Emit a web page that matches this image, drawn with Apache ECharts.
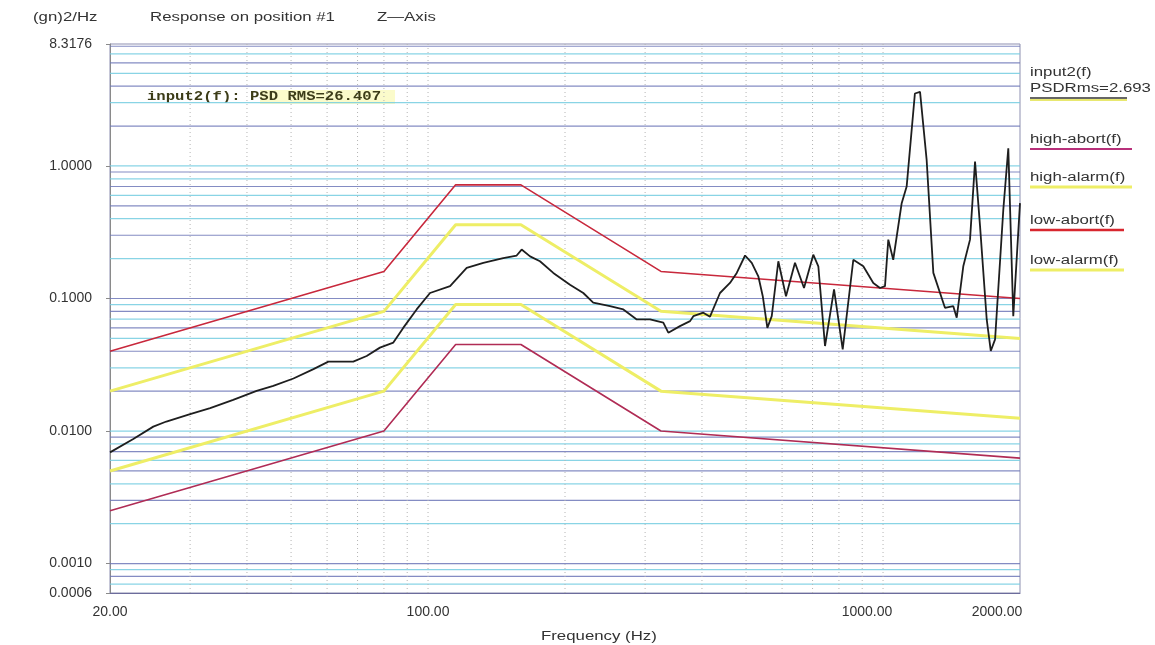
<!DOCTYPE html>
<html><head><meta charset="utf-8">
<script src="https://cdn.jsdelivr.net/npm/echarts@6/dist/echarts.min.js"></script>
<style>html,body{margin:0;padding:0;background:#fff}#c{width:1155px;height:645px}</style>
</head><body><div id="c"></div>
<script>
// ---- data ----
const responseFreq = [20, 22.5, 24.9, 26.6, 30.0, 33.2, 37.3, 42.0, 45.7, 50.6, 56.0, 60.4, 68.5, 73.3, 78.4, 83.9, 88.2, 94.4, 101, 111.8, 121.6, 132.3, 146.3, 156.6, 160.6, 167.6, 176.2, 188.5, 205.1, 219.4, 230.7, 251.2, 268.7, 287.6, 307.6, 328.9, 337.4, 357.8, 376.6, 382.9, 402.7, 416.6, 438.2, 460.9, 477, 497.5, 514.6, 532, 544.1, 556.9, 569.4, 588.7, 612, 640.5, 670.4, 702.6, 720.8, 745.6, 780.4, 815.4, 860.4, 905, 952, 984.8, 1010, 1027, 1053, 1099, 1127, 1175, 1206, 1247, 1290, 1368, 1427, 1452, 1501, 1553, 1593, 1634, 1690, 1725, 1763, 1838, 1885, 1933, 2000];
const responsePsd = [0.0069, 0.0087, 0.0108, 0.0118, 0.0134, 0.0149, 0.0172, 0.0201, 0.0219, 0.0249, 0.0293, 0.0334, 0.0334, 0.0368, 0.0426, 0.0465, 0.060, 0.0827, 0.110, 0.124, 0.170, 0.186, 0.202, 0.211, 0.234, 0.208, 0.191, 0.156, 0.127, 0.110, 0.093, 0.0875, 0.0827, 0.0695, 0.0695, 0.0657, 0.0552, 0.0619, 0.0675, 0.0736, 0.0781, 0.0729, 0.110, 0.131, 0.156, 0.211, 0.186, 0.147, 0.104, 0.060, 0.0736, 0.191, 0.104, 0.186, 0.120, 0.214, 0.175, 0.0438, 0.117, 0.0413, 0.196, 0.175, 0.131, 0.120, 0.124, 0.278, 0.196, 0.524, 0.699, 3.52, 3.62, 1.11, 0.156, 0.0851, 0.0875, 0.0716, 0.175, 0.278, 1.077, 0.35, 0.0695, 0.0402, 0.0492, 0.467, 1.359, 0.0736, 0.524];

const limitFreq = [20, 80, 115, 160, 325, 2000];
const highAbort = [0.04, 0.16, 0.72, 0.72, 0.16, 0.1];
const highAlarm = [0.02, 0.08, 0.36, 0.36, 0.08, 0.05];
const lowAlarm  = [0.005, 0.02, 0.09, 0.09, 0.02, 0.0125];
const lowAbort  = [0.0025, 0.01, 0.045, 0.045, 0.01, 0.00625];

const yTickValues = [8.3176, 1, 0.1, 0.01, 0.001, 0.0006];
const yTickLabels = ['8.3176', '1.0000', '0.1000', '0.0100', '0.0010', '0.0006'];
const xTickValues = [20, 100, 1000, 2000];
const xTickLabels = ['20.00', '100.00', '1000.00', '2000.00'];

const yGridValues = [0.0007, 0.0008, 0.0009, 0.001, 0.002, 0.003, 0.004, 0.005, 0.006, 0.007, 0.008, 0.009, 0.01,
  0.02, 0.03, 0.04, 0.05, 0.06, 0.07, 0.08, 0.09, 0.1, 0.2, 0.3, 0.4, 0.5, 0.6, 0.7, 0.8, 0.9, 1, 2, 3, 4, 5, 6, 7, 8];
const xGridValues = [30, 40, 50, 60, 70, 80, 90, 100, 200, 300, 400, 500, 600, 700, 800, 900, 1000];

// ---- helpers ----
const pairs = (xs, ys) => xs.map((x, i) => [x, ys[i]]);
const pickLabel = (v, vals, labels) => {
  for (let i = 0; i < vals.length; i++) {
    if (Math.abs(Math.log10(v) - Math.log10(vals[i])) < 1e-3) return labels[i];
  }
  return '';
};
const X_MIN = 20, X_MAX = 2000, Y_MIN = 0.0006, Y_MAX = 8.3176;
const cyan = '#74cde0', blue = '#6f78b8';

const chart = echarts.init(document.getElementById('c'));
const FONT = "'Liberation Sans', Arial, sans-serif";
function txt(x, y, text, size, extra) {
  return {
    type: 'text', x: x, y: y, scaleX: 1.4, silent: true,
    style: Object.assign({ text: text, fill: '#333', fontSize: size, fontFamily: FONT,
      align: 'left', verticalAlign: 'middle', textAlign: 'left', textVerticalAlign: 'middle' }, extra || {})
  };
}
function uline(x1, x2, y, color, w) {
  return { type: 'line', silent: true, shape: { x1: x1, y1: y, x2: x2, y2: y }, style: { stroke: color, lineWidth: w || 2 } };
}

const option = {
  animation: false,
  backgroundColor: '#fff',
  grid: { left: 110, right: 135, top: 44, bottom: 52, show: true, borderColor: '#8d8fb0', borderWidth: 1 },
  xAxis: {
    type: 'log', logBase: 10, min: X_MIN, max: X_MAX,
    axisLine: { lineStyle: { color: '#6c6c9c' } },
    axisTick: { show: false },
    splitLine: { show: false },
    axisLabel: {
      showMinLabel: true, showMaxLabel: true, margin: 12, color: '#333', fontSize: 14, fontFamily: FONT,
      formatter: function (v) {
        const l = pickLabel(v, xTickValues, xTickLabels);
        if (l === '1000.00') return '{a|' + l + '}';
        if (l === '2000.00') return '{b|' + l + '}';
        return l;
      },
      rich: {
        a: { fontSize: 14, fontFamily: FONT, color: '#333', padding: [0, 32, 0, 0] },
        b: { fontSize: 14, fontFamily: FONT, color: '#333', padding: [0, 46, 0, 0] }
      }
    }
  },
  yAxis: {
    type: 'log', logBase: 10, min: Y_MIN, max: Y_MAX,
    axisLine: { show: true, lineStyle: { color: '#8a8a8a' } },
    axisTick: { show: true, length: 4, lineStyle: { color: '#8a8a8a' } },
    splitLine: { show: false },
    axisLabel: {
      showMinLabel: true, showMaxLabel: true, margin: 18, color: '#333', fontSize: 14, fontFamily: FONT,
      formatter: function (v) { return pickLabel(v, yTickValues, yTickLabels); }
    }
  },
  graphic: [
    txt(33, 18, '(gn)2/Hz', 12),
    txt(150, 18, 'Response on position #1', 12),
    txt(377, 18, 'Z\u2014Axis', 12),
    { type: 'rect', silent: true, shape: { x: 260, y: 90, width: 135, height: 14 }, style: { fill: 'rgba(248,248,160,0.55)' } },
    { type: 'text', x: 147, y: 97, scaleX: 1.3, silent: true,
      style: { text: 'input2(f): PSD RMS=26.407', fill: '#3c3c18', fontSize: 12, fontWeight: 'bold',
        fontFamily: "'Liberation Mono', 'DejaVu Sans Mono', monospace",
        align: 'left', verticalAlign: 'middle', textAlign: 'left', textVerticalAlign: 'middle' } },
    txt(1030, 73, 'input2(f)', 12),
    txt(1030, 89, 'PSDRms=2.693', 12),
    uline(1030, 1127, 100, '#e8e870', 2),
    uline(1030, 1127, 98, '#333', 1.5),
    txt(1030, 140, 'high-abort(f)', 12),
    uline(1030, 1132, 149, '#b8307a', 2),
    txt(1030, 178, 'high-alarm(f)', 12),
    uline(1030, 1132, 187, '#eeee66', 3),
    txt(1030, 221, 'low-abort(f)', 12),
    uline(1030, 1124, 230, '#d8262e', 2.5),
    txt(1030, 261, 'low-alarm(f)', 12),
    uline(1030, 1124, 270, '#eeee66', 3),
    txt(541, 637, 'Frequency (Hz)', 12)
  ],
  series: [
    {
      name: 'hgrid', type: 'custom', silent: true, z: 1, clip: false,
      data: yGridValues.map(v => [X_MIN, v]),
      renderItem: function (params, api) {
        const y = api.value(1);
        const a = api.coord([X_MIN, y]);
        const b = api.coord([X_MAX, y]);
        return { type: 'line', shape: { x1: a[0], y1: a[1], x2: b[0], y2: b[1] },
          style: { stroke: params.dataIndex % 2 ? blue : cyan, lineWidth: 1.2, opacity: 0.85 } };
      }
    },
    {
      name: 'vgrid', type: 'custom', silent: true, z: 1, clip: false,
      data: xGridValues.map(v => [v, Y_MIN]),
      renderItem: function (params, api) {
        const x = api.value(0);
        const a = api.coord([x, Y_MIN]);
        const b = api.coord([x, Y_MAX]);
        return { type: 'line', shape: { x1: a[0], y1: a[1], x2: b[0], y2: b[1] },
          style: { stroke: '#b4b4b4', lineWidth: 1, lineDash: [1, 3] } };
      }
    },
    { name: 'high-alarm(f)', type: 'line', data: pairs(limitFreq, highAlarm), symbol: 'none', z: 3,
      lineStyle: { color: '#eeee66', width: 3 } },
    { name: 'low-alarm(f)', type: 'line', data: pairs(limitFreq, lowAlarm), symbol: 'none', z: 3,
      lineStyle: { color: '#eeee66', width: 3 } },
    { name: 'high-abort(f)', type: 'line', data: pairs(limitFreq, highAbort), symbol: 'none', z: 4,
      lineStyle: { color: '#c8283c', width: 1.6 } },
    { name: 'low-abort(f)', type: 'line', data: pairs(limitFreq, lowAbort), symbol: 'none', z: 4,
      lineStyle: { color: '#b02c55', width: 1.6 } },
    { name: 'input2(f)', type: 'line', data: pairs(responseFreq, responsePsd), symbol: 'none', z: 5,
      lineStyle: { color: '#1e1e1e', width: 1.8 } }
  ]
};
chart.setOption(option);
</script>
</body></html>
